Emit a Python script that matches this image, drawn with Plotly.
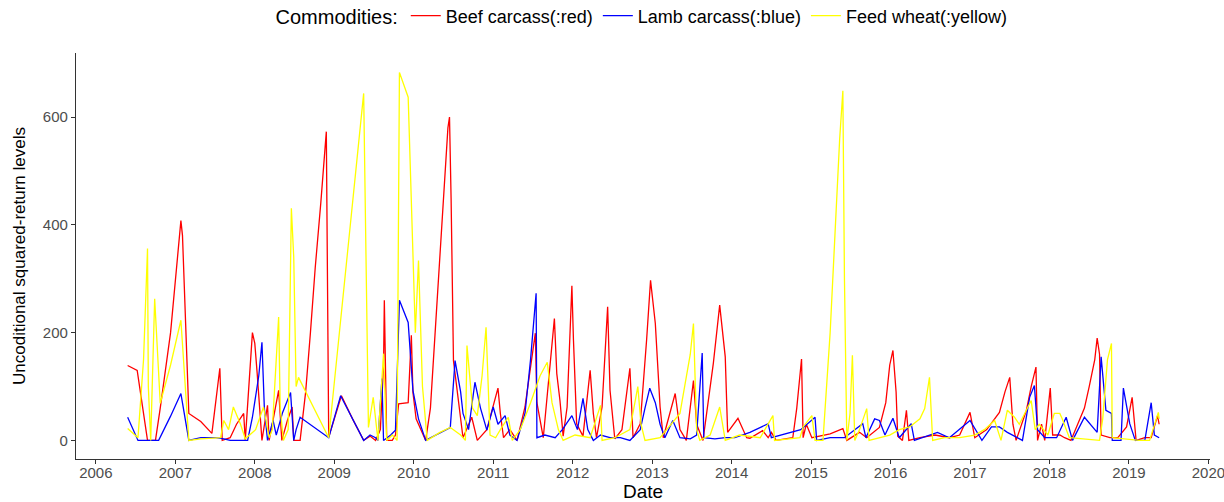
import plotly.graph_objects as go

# ---- data (dates as decimal years, values = squared returns) ----
beef_t = [2006.40, 2006.52, 2006.59, 2006.65, 2006.75, 2006.81, 2006.94, 2007.02, 2007.07, 2007.09,
          2007.17, 2007.32, 2007.46, 2007.56, 2007.59, 2007.69, 2007.77, 2007.86, 2007.88, 2007.97,
          2008.00, 2008.03, 2008.09, 2008.16, 2008.18, 2008.22, 2008.30, 2008.34, 2008.41, 2008.47,
          2008.49, 2008.57, 2008.64, 2008.70, 2008.76, 2008.83, 2008.88, 2008.90, 2008.93, 2009.09,
          2009.23, 2009.37, 2009.45, 2009.52, 2009.58, 2009.62, 2009.63, 2009.66, 2009.73, 2009.77,
          2009.81, 2009.93, 2009.97, 2009.99, 2010.03, 2010.15, 2010.21, 2010.27, 2010.33, 2010.40,
          2010.43, 2010.45, 2010.47, 2010.50, 2010.56, 2010.62, 2010.73, 2010.80, 2010.92, 2011.06,
          2011.09, 2011.13, 2011.21, 2011.30, 2011.40, 2011.53, 2011.55, 2011.63, 2011.77, 2011.80,
          2011.84, 2011.88, 2011.93, 2011.99, 2012.01, 2012.05, 2012.13, 2012.22, 2012.26, 2012.30,
          2012.37, 2012.44, 2012.47, 2012.53, 2012.62, 2012.72, 2012.76, 2012.85, 2012.93, 2012.98,
          2013.04, 2013.10, 2013.14, 2013.29, 2013.35, 2013.43, 2013.52, 2013.56, 2013.64, 2013.77,
          2013.85, 2013.92, 2013.95, 2014.08, 2014.19, 2014.23, 2014.39, 2014.46, 2014.50, 2014.56,
          2014.77, 2014.82, 2014.88, 2014.90, 2014.94, 2015.01, 2015.24, 2015.40, 2015.45, 2015.61,
          2015.70, 2015.86, 2015.94, 2015.99, 2016.03, 2016.07, 2016.09, 2016.15, 2016.20, 2016.23,
          2016.37, 2016.56, 2016.74, 2016.87, 2017.00, 2017.06, 2017.21, 2017.37, 2017.44, 2017.50,
          2017.54, 2017.58, 2017.71, 2017.77, 2017.83, 2017.85, 2017.90, 2017.94, 2018.01, 2018.04,
          2018.13, 2018.19, 2018.27, 2018.38, 2018.44, 2018.50, 2018.57, 2018.60, 2018.63, 2018.65,
          2018.76, 2018.86, 2018.97, 2019.04, 2019.09, 2019.20, 2019.28, 2019.36, 2019.38]
beef_v = [139, 130, 60, 0, 0, 60, 200, 330, 408, 380,
          50, 35, 13, 134, 0, 5, 30, 50, 0, 200,
          180, 124, 0, 65, 0, 30, 93, 0, 37, 62,
          0, 0, 90, 200, 320, 440, 540, 573, 6, 83,
          40, 0, 8, 0, 20, 139, 260, 0, 0, 10,
          68, 70, 195, 89, 40, 0, 60, 200, 350, 500,
          580, 600, 450, 148, 74, 5, 43, 0, 20, 97,
          50, 5, 20, 0, 62, 199, 70, 5, 226, 124,
          74, 8, 62, 287, 186, 31, 8, 130, 50, 5,
          62, 248, 93, 3, 20, 134, 5, 31, 186, 297,
          217, 62, 5, 87, 20, 0, 111, 30, 0, 143,
          251, 155, 15, 41, 5, 4, 18, 5, 15, 0,
          5, 60, 151, 5, 30, 5, 12, 22, 0, 15,
          5, 24, 70, 140, 167, 90, 8, 0, 56, 0,
          5, 10, 5, 10, 52, 5, 20, 52, 90, 117,
          30, 0, 56, 100, 136, 0, 30, 0, 97, 10,
          10, 5, 0, 37, 60, 100, 150, 190, 160, 10,
          5, 5, 25, 80, 0, 5, 5, 46, 30]

lamb_t = [2006.40, 2006.53, 2006.69, 2006.79, 2006.94, 2007.07, 2007.17, 2007.32, 2007.51, 2007.61,
          2007.69, 2007.91, 2007.97, 2008.05, 2008.09, 2008.12, 2008.16, 2008.23, 2008.27, 2008.35,
          2008.45, 2008.49, 2008.52, 2008.57, 2008.93, 2009.08, 2009.37, 2009.45, 2009.52, 2009.55,
          2009.60, 2009.62, 2009.71, 2009.77, 2009.82, 2009.93, 2009.99, 2010.06, 2010.15, 2010.46,
          2010.52, 2010.59, 2010.62, 2010.69, 2010.77, 2010.84, 2010.92, 2011.00, 2011.06, 2011.15,
          2011.21, 2011.30, 2011.34, 2011.40, 2011.47, 2011.54, 2011.55, 2011.65, 2011.78, 2011.87,
          2011.99, 2012.06, 2012.13, 2012.19, 2012.26, 2012.35, 2012.47, 2012.60, 2012.72, 2012.85,
          2012.91, 2012.97, 2013.04, 2013.10, 2013.16, 2013.26, 2013.35, 2013.48, 2013.56, 2013.63,
          2013.65, 2013.79, 2013.92, 2014.04, 2014.23, 2014.46, 2014.50, 2014.73, 2014.87, 2015.05,
          2015.07, 2015.24, 2015.42, 2015.65, 2015.69, 2015.80, 2015.86, 2015.93, 2016.03, 2016.11,
          2016.26, 2016.30, 2016.59, 2016.74, 2017.00, 2017.15, 2017.27, 2017.37, 2017.47, 2017.66,
          2017.75, 2017.81, 2017.85, 2017.94, 2018.09, 2018.21, 2018.29, 2018.44, 2018.60, 2018.65,
          2018.71, 2018.78, 2018.79, 2018.90, 2018.93, 2019.01, 2019.08, 2019.20, 2019.28, 2019.32,
          2019.38]
lamb_v = [43, 0, 0, 0, 45, 87, 0, 5, 5, 3,
          0, 0, 43, 120, 182, 60, 0, 37, 10, 52,
          89, 0, 20, 43, 5, 83, 0, 10, 5, 0,
          115, 0, 10, 19, 260, 219, 93, 40, 0, 24,
          148, 90, 50, 20, 108, 60, 19, 62, 30, 46,
          10, 0, 20, 50, 150, 273, 5, 10, 5, 20,
          46, 20, 78, 20, 0, 10, 5, 5, 0, 20,
          60, 97, 70, 30, 5, 37, 5, 3, 10, 162,
          5, 3, 5, 5, 15, 31, 5, 15, 20, 43,
          0, 5, 5, 31, 5, 40, 37, 10, 41, 5,
          31, 0, 15, 5, 37, 0, 25, 25, 15, 0,
          80, 102, 20, 5, 5, 43, 0, 43, 15, 155,
          56, 50, 0, 0, 97, 31, 0, 0, 70, 10,
          5]

wheat_t = [2006.40, 2006.53, 2006.60, 2006.65, 2006.66, 2006.69, 2006.74, 2006.78, 2006.81, 2006.94,
           2007.07, 2007.17, 2007.32, 2007.57, 2007.61, 2007.67, 2007.73, 2007.82, 2007.88, 2008.01,
           2008.11, 2008.18, 2008.22, 2008.30, 2008.32, 2008.36, 2008.42, 2008.46, 2008.49, 2008.52,
           2008.55, 2008.93, 2009.37, 2009.43, 2009.49, 2009.55, 2009.62, 2009.66, 2009.73, 2009.79,
           2009.82, 2009.93, 2009.98, 2010.02, 2010.06, 2010.11, 2010.17, 2010.33, 2010.46, 2010.59,
           2010.65, 2010.67, 2010.74, 2010.80, 2010.86, 2010.91, 2010.96, 2011.03, 2011.09, 2011.19,
           2011.24, 2011.34, 2011.47, 2011.59, 2011.68, 2011.74, 2011.82, 2011.88, 2012.03, 2012.22,
           2012.35, 2012.37, 2012.53, 2012.72, 2012.82, 2012.86, 2012.91, 2013.10, 2013.35, 2013.48,
           2013.52, 2013.56, 2013.60, 2013.73, 2013.85, 2013.92, 2014.10, 2014.36, 2014.52, 2014.54,
           2014.86, 2014.90, 2015.01, 2015.05, 2015.15, 2015.24, 2015.30, 2015.36, 2015.40, 2015.42,
           2015.45, 2015.49, 2015.52, 2015.55, 2015.61, 2015.70, 2015.73, 2015.86, 2015.99, 2016.11,
           2016.24, 2016.37, 2016.43, 2016.49, 2016.53, 2016.68, 2016.87, 2017.06, 2017.18, 2017.31,
           2017.39, 2017.47, 2017.56, 2017.62, 2017.77, 2017.82, 2017.87, 2017.98, 2018.06, 2018.13,
           2018.16, 2018.25, 2018.44, 2018.63, 2018.67, 2018.73, 2018.78, 2018.79, 2018.94, 2019.13,
           2019.26, 2019.37, 2019.38]
wheat_v = [22, 5, 150, 356, 100, 0, 263, 150, 69, 140,
           223, 0, 3, 5, 37, 20, 62, 30, 3, 20,
           62, 5, 20, 229, 60, 0, 20, 431, 340, 100,
           117, 5, 644, 24, 80, 0, 161, 0, 10, 0,
           683, 637, 371, 200, 334, 100, 0, 15, 24, 10,
           0, 176, 60, 46, 120, 210, 10, 5, 20, 43,
           0, 20, 70, 120, 145, 70, 20, 0, 10, 5,
           65, 0, 5, 20, 100, 30, 0, 5, 50, 160,
           217, 20, 0, 10, 62, 0, 10, 5, 46, 0,
           5, 25, 46, 0, 0, 200, 380, 560, 649, 300,
           0, 50, 158, 0, 20, 59, 0, 5, 10, 20,
           25, 40, 59, 117, 0, 5, 5, 10, 20, 37,
           0, 56, 43, 30, 74, 20, 30, 10, 50, 50,
           40, 5, 3, 0, 40, 150, 180, 5, 3, 0,
           0, 52, 40]

year_ticks = list(range(2006, 2021))
value_ticks = [0, 200, 400, 600]

FONT = "Liberation Sans, Arial, sans-serif"

fig = go.Figure()
fig.add_trace(go.Scatter(x=beef_t, y=beef_v, mode="lines", name="Beef carcass(:red)",
                         line=dict(color="#FF0000", width=1.3)))
fig.add_trace(go.Scatter(x=lamb_t, y=lamb_v, mode="lines", name="Lamb carcass(:blue)",
                         line=dict(color="#0000FF", width=1.3)))
fig.add_trace(go.Scatter(x=wheat_t, y=wheat_v, mode="lines", name="Feed wheat(:yellow)",
                         line=dict(color="#FFFF00", width=1.3)))

fig.update_layout(
    width=1224, height=502,
    margin=dict(l=76, r=14, t=53, b=43, autoexpand=False),
    paper_bgcolor="white", plot_bgcolor="white",
    font=dict(family=FONT, color="black"),
    showlegend=True,
    legend=dict(
        orientation="h", x=0.5, xanchor="center", xref="paper",
        y=1 - 16 / 502, yref="container", yanchor="middle",
        title=dict(text="Commodities:", font=dict(size=20, family=FONT), side="left"),
        font=dict(size=18, family=FONT),
        itemwidth=30, bgcolor="rgba(0,0,0,0)",
    ),
    xaxis=dict(
        range=[2005.75, 2020.02], tickmode="array", tickvals=year_ticks,
        ticktext=[str(y) for y in year_ticks], automargin=False,
        showgrid=False, zeroline=False, showline=True, linecolor="#333333", linewidth=1.2,
        ticks="outside", ticklen=4, tickcolor="#333333", tickwidth=1,
        ticklabelstandoff=-4, ticklabeloverflow="allow",
        tickfont=dict(size=15, color="#4D4D4D", family=FONT),
        title=dict(text="Date", font=dict(size=19, color="black", family=FONT), standoff=4),
    ),
    yaxis=dict(
        range=[-34.5, 719], tickmode="array", tickvals=value_ticks,
        ticktext=[str(v) for v in value_ticks], automargin=False,
        showgrid=False, zeroline=False, showline=True, linecolor="#333333", linewidth=1.2,
        ticks="outside", ticklen=4, tickcolor="#333333", tickwidth=1,
        tickfont=dict(size=15, color="#4D4D4D", family=FONT),
        title=dict(text="Uncoditional squared-return levels",
                   font=dict(size=17, color="black", family=FONT), standoff=12),
    ),
)

fig.write_html("out.html")
